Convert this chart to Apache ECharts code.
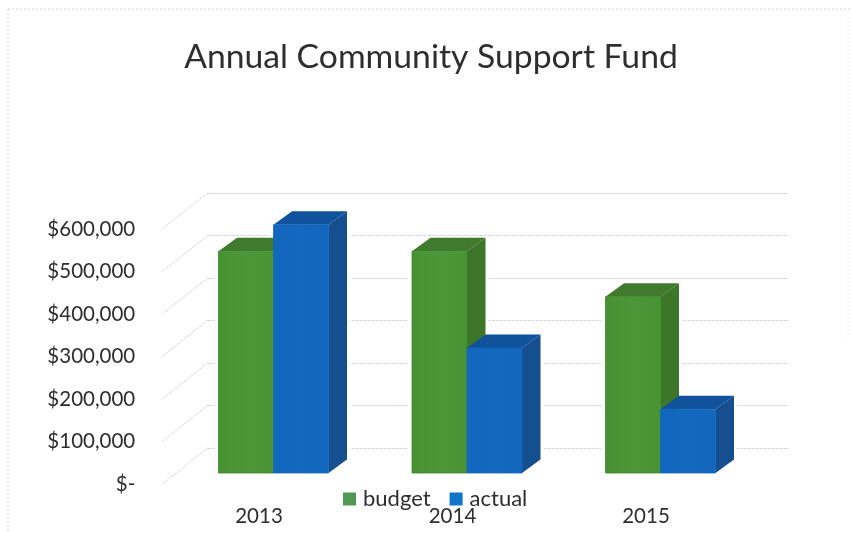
<!DOCTYPE html>
<html>
<head>
<meta charset="utf-8">
<style>html,body{margin:0;padding:0;background:#fff}#chart{width:851px;height:533px}</style>
<script src="https://cdn.jsdelivr.net/npm/echarts@6/dist/echarts.min.js"></script>
</head>
<body>
<div id="chart"></div>
<script>
// Annual Community Support Fund: budget against actual, by year
const years = ['2013', '2014', '2015'];
const budget = [522000, 522000, 415000];
const actual = [584000, 294000, 150000];
const yTicks = [0, 100000, 200000, 300000, 400000, 500000, 600000];

const FONT = 'Lato';
const BAR_SHARE = 55 / 193.5;      // bar width as a share of one category band
const DEPTH = [18.5, -13.5];       // extruded depth of each column
const FLOOR = [46, -36.5];         // depth of the chart floor

function money(v) {
  return v === 0 ? '$-' : '$' + v.toLocaleString('en-US');
}

// Pseudo-3D column: front face, top and right side, positioned by the axes.
function column(seriesOffset, palette) {
  return function (params, api) {
    const cat = api.value(0);
    const top = api.coord([cat, api.value(1)]);
    const base = api.coord([cat, 0]);
    const w = api.size([1, 0])[0] * BAR_SHARE;
    const x = top[0] + seriesOffset * w;
    const [dx, dy] = DEPTH;
    return {
      type: 'group',
      children: [
        { type: 'polygon', shape: { points: [[x + w, top[1]], [x + w + dx, top[1] + dy], [x + w + dx, base[1] + dy], [x + w, base[1]]] },
          style: { fill: palette.side } },
        { type: 'polygon', shape: { points: [[x, top[1]], [x + dx, top[1] + dy], [x + w + dx, top[1] + dy], [x + w, top[1]]] },
          style: { fill: palette.top } },
        { type: 'rect', shape: { x: x, y: top[1], width: w, height: base[1] - top[1] },
          style: { fill: palette.front, stroke: palette.edge, lineWidth: 0.8 } }
      ]
    };
  };
}

// White margin that keeps the wall gridlines clear of each column.
function halo(seriesOffset) {
  return function (params, api) {
    const cat = api.value(0);
    const top = api.coord([cat, api.value(1)]);
    const base = api.coord([cat, 0]);
    const w = api.size([1, 0])[0] * BAR_SHARE;
    const x = top[0] + seriesOffset * w;
    const [dx, dy] = DEPTH;
    return {
      type: 'polygon',
      shape: { points: [[x - 4, base[1]], [x - 4, top[1] + dy], [x + w + dx + 3, top[1] + dy], [x + w + dx + 3, base[1]]] },
      style: { fill: '#fff' }
    };
  };
}

const green = {
  front: { type: 'linear', x: 0, y: 0, x2: 1, y2: 0, colorStops: [
    { offset: 0, color: '#459133' }, { offset: 0.5, color: '#4e9738' }, { offset: 1, color: '#489333' }] },
  top: '#3f7a2e', side: '#3d7529', edge: '#3a8a22'
};
const blue = {
  front: { type: 'linear', x: 0, y: 0, x2: 1, y2: 0, colorStops: [
    { offset: 0, color: '#1166bd' }, { offset: 0.5, color: '#1469be' }, { offset: 1, color: '#1266bb' }] },
  top: '#10539c', side: '#154f8f', edge: '#1268c0'
};

const option = {
  animation: false,
  backgroundColor: '#fff',
  textStyle: { fontFamily: FONT },
  title: {
    text: 'Annual Community Support Fund',
    left: 426, top: 35, textAlign: 'center',
    textStyle: { fontFamily: FONT, fontSize: 33.7, fontWeight: 'normal', color: '#2e2e2e' }
  },
  legend: {
    data: ['budget', 'actual'],
    left: 338, top: 483,
    icon: 'rect', itemWidth: 13, itemHeight: 13, itemGap: 19,
    textStyle: { fontFamily: FONT, fontSize: 22, color: '#2e2e2e', padding: [0, 0, 0, 2] }
  },
  // Three parallel planes: front edge (labels), column plane, back wall (gridlines).
  grid: [
    { left: 162.25, top: 229, width: 580.5, height: 255 },
    { left: 176.75, top: 218, width: 580.5, height: 255 },
    { left: 208, top: 193, width: 581, height: 255 }
  ],
  xAxis: [0, 1, 2].map(i => ({
    type: 'category', gridIndex: i, data: years,
    axisLine: { show: false }, axisTick: { show: false },
    axisLabel: { show: i === 0, margin: 22, fontFamily: FONT, fontSize: 20.5, color: '#2e2e2e' }
  })),
  yAxis: [0, 1, 2].map(i => ({
    type: 'value', gridIndex: i, min: 0, max: 600000, interval: 100000,
    axisLine: { show: false }, axisTick: { show: false },
    splitLine: { show: i === 2, lineStyle: { color: '#d6d5de', width: 1, type: [3, 1] } },
    axisLabel: { show: i === 0, margin: 27, formatter: money, fontFamily: FONT, fontSize: 20.5, color: '#2e2e2e' }
  })),
  series: [
    {
      // Floor lines running from the front edge back to the wall
      type: 'custom', xAxisIndex: 0, yAxisIndex: 0, silent: true, z: 1,
      data: yTicks.map(v => [0, v]),
      renderItem(params, api) {
        const y = api.coord([0, api.value(1)])[1];
        const x = params.coordSys.x;
        return { type: 'line', shape: { x1: x, y1: y, x2: x + FLOOR[0], y2: y + FLOOR[1] },
          style: { stroke: '#d6d5da', lineWidth: 1, lineDash: [3, 1] } };
      }
    },
    { type: 'custom', xAxisIndex: 1, yAxisIndex: 1, silent: true, z: 2,
      data: budget.map((v, i) => [i, v]), renderItem: halo(-1) },
    { type: 'custom', xAxisIndex: 1, yAxisIndex: 1, silent: true, z: 2,
      data: actual.map((v, i) => [i, v]), renderItem: halo(0) },
    { name: 'budget', type: 'custom', xAxisIndex: 1, yAxisIndex: 1, z: 3, itemStyle: { color: '#4f9a50' },
      encode: { x: 0, y: 1 },
      data: budget.map((v, i) => [i, v]), renderItem: column(-1, green) },
    { name: 'actual', type: 'custom', xAxisIndex: 1, yAxisIndex: 1, z: 4, itemStyle: { color: '#0f75c8' },
      encode: { x: 0, y: 1 },
      data: actual.map((v, i) => [i, v]), renderItem: column(0, blue) }
  ],
  graphic: [
    // Dotted chart frame
    ...[[8, 9, 8, 533, '#d4d4d4'], [8, 9, 851, 9, '#d4d4d4'], [848, 9, 848, 340, '#f0f0f0']].map(p => ({
      type: 'line', silent: true,
      shape: { x1: p[0], y1: p[1], x2: p[2], y2: p[3] },
      style: { stroke: p[4], lineWidth: 1, lineDash: [2, 2] }
    }))
  ]
};

echarts.init(document.getElementById('chart'), null, { renderer: 'canvas' }).setOption(option);
</script>
</body>
</html>
